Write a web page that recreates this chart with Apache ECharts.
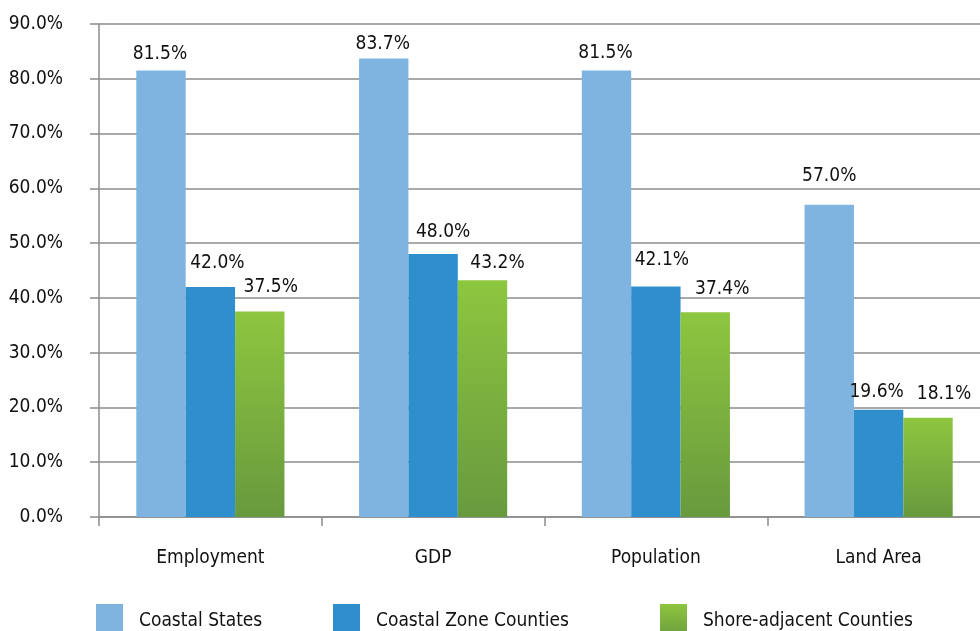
<!DOCTYPE html>
<html>
<head>
<meta charset="utf-8">
<script src="https://cdn.jsdelivr.net/npm/echarts@6/dist/echarts.min.js"></script>
<style>
html,body{margin:0;padding:0;background:#fff;overflow:hidden;}
#c{width:990px;height:640px;}
</style>
</head>
<body>
<div id="c"></div>
<script>
const categories = ['Employment', 'GDP', 'Population', 'Land Area'];
const seriesNames = ['Coastal States', 'Coastal Zone Counties', 'Shore-adjacent Counties'];
const coastalStates = [81.5, 83.7, 81.5, 57.0];
const coastalZone = [42.0, 48.0, 42.1, 19.6];
const shoreAdjacent = [37.5, 43.2, 37.4, 18.1];
const yTicks = [0, 10, 20, 30, 40, 50, 60, 70, 80, 90];

// label placement tweaks (style only): [dx, gap above bar]
const labelShift = [
  [[-1, 11], [-1, 9], [-1, 12], [0, 23]],
  [[7, 18], [10, 17], [6, 21], [-2, 12]],
  [[11, 19], [15, 12], [17, 18], [16, 18]]
];

const FONT = '"DejaVu Sans Condensed", "Liberation Sans Narrow", "Noto Sans", sans-serif';
const FS = 19;
const green = new echarts.graphic.LinearGradient(0, 0, 0, 1, [
  {offset: 0, color: '#8dc63f'},
  {offset: 1, color: '#679a3e'}
]);
const colors = ['#7fb4e1', '#2f8fcd', green];

function build(values, idx) {
  return values.map((v, i) => ({
    value: v,
    label: {offset: [labelShift[idx][i][0], -(labelShift[idx][i][1] - 4)]}
  }));
}

const allValues = [coastalStates, coastalZone, shoreAdjacent];
const chart = echarts.init(document.getElementById('c'));

const legendBase = {
  top: 604,
  padding: 0,
  itemWidth: 27,
  itemHeight: 35,
  icon: 'rect',
  textStyle: {fontFamily: FONT, fontSize: FS, color: '#111', padding: [0, 0, 0, 11]}
};

chart.setOption({
  animation: false,
  backgroundColor: '#fff',
  legend: [
    Object.assign({left: 96, data: [seriesNames[0]]}, legendBase),
    Object.assign({left: 333, data: [seriesNames[1]]}, legendBase),
    Object.assign({left: 660, data: [seriesNames[2]]}, legendBase)
  ],
  grid: {left: 99, top: 24, right: 0, bottom: 123, containLabel: false, outerBoundsMode: 'none'},
  xAxis: {
    type: 'category',
    data: categories,
    axisLine: {lineStyle: {color: '#8c8c8c', width: 1.5}},
    axisTick: {show: true, length: 9, lineStyle: {color: '#8c8c8c', width: 1.5}},
    axisLabel: {fontFamily: FONT, fontSize: FS, color: '#111', margin: 32}
  },
  yAxis: {
    type: 'value',
    min: yTicks[0],
    max: yTicks[yTicks.length - 1],
    interval: 10,
    axisLine: {show: true, lineStyle: {color: '#8c8c8c', width: 1.5}},
    axisTick: {show: true, length: 9, lineStyle: {color: '#8c8c8c', width: 1.5}},
    splitLine: {lineStyle: {color: '#8c8c8c', width: 1.5}},
    axisLabel: {
      fontFamily: FONT, fontSize: FS, color: '#111', margin: 36,
      formatter: v => v.toFixed(1) + '%'
    }
  },
  series: allValues.map((vals, idx) => ({
    name: seriesNames[idx],
    type: 'bar',
    data: build(vals, idx),
    barGap: '0%',
    barCategoryGap: '33.5%',
    itemStyle: {color: colors[idx]},
    label: {
      show: true,
      position: 'top',
      distance: 0,
      fontFamily: FONT,
      fontSize: FS,
      color: '#111',
      formatter: p => p.value.toFixed(1) + '%'
    }
  }))
});
</script>
</body>
</html>
